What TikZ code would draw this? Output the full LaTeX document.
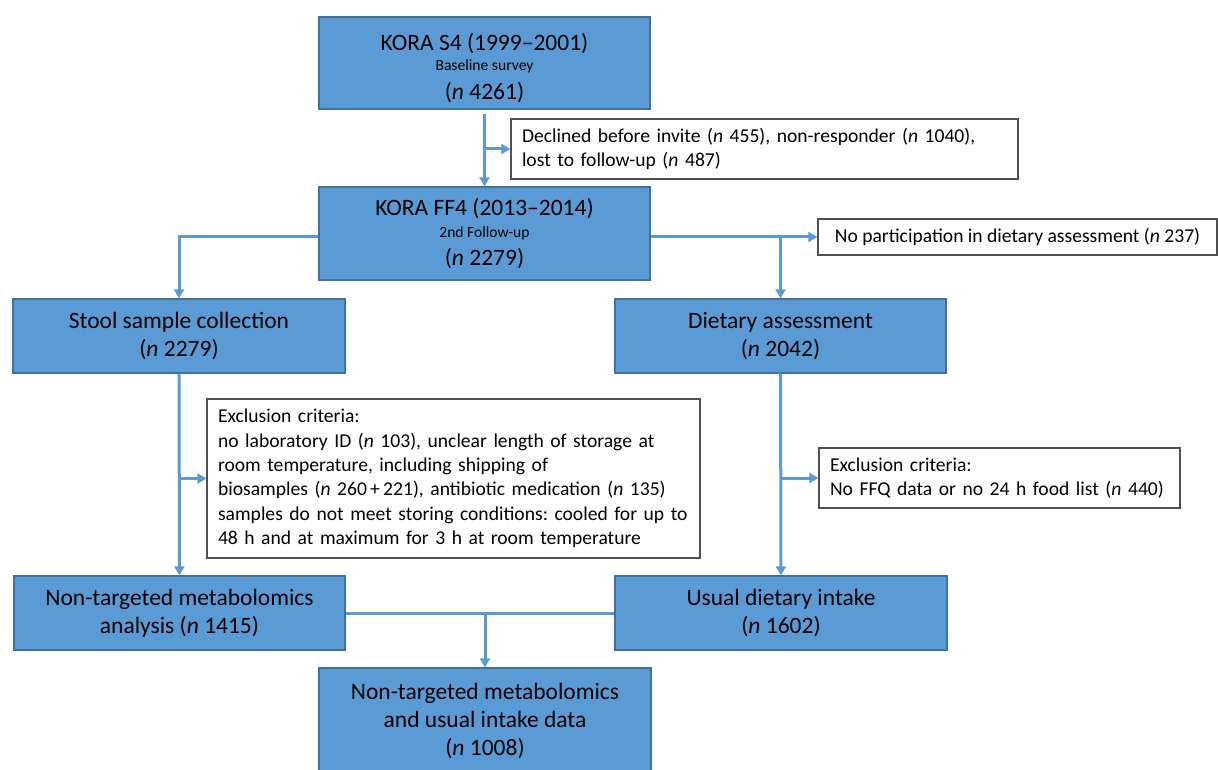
\documentclass[tikz,border=0pt]{standalone}
\usepackage{fontspec}
\setmainfont{Carlito}
\frenchspacing
\usetikzlibrary{arrows.meta}
\definecolor{bleu}{HTML}{5B9BD5}
\definecolor{bord}{HTML}{41719C}
\definecolor{gris}{HTML}{505050}
\begin{document}
\begin{tikzpicture}[x=1pt,y=-1pt]
%styles : boites bleues, boites d'exclusion, fleches
\tikzset{bloc/.style={draw=bord,line width=1.2pt,fill=bleu,align=center,inner sep=0pt,font=\fontsize{23.5}{28.2}\selectfont},
exclu/.style={draw=gris,line width=1.2pt,fill=white,align=left,inner xsep=11pt,inner ysep=0pt,font=\fontsize{19.6}{24.3}\selectfont},
fleche/.style={bleu,line width=3pt,-{Triangle[length=9pt,width=10pt]}},
trait/.style={bleu,line width=3pt}}
\useasboundingbox (0,0) rectangle (1218,770);

%boites bleues
\node[bloc,minimum width=331pt,minimum height=92pt] (s4) at (484.5,63) {\rule{0pt}{27pt}KORA S4 (1999--2001)\\[-8pt]{\fontsize{15.6}{18}\selectfont Baseline survey}\\(\textit{n} 4261)};
\node[bloc,minimum width=331pt,minimum height=93pt] (ff4) at (484.5,233.5) {KORA FF4 (2013--2014)\\[-6pt]{\fontsize{15.6}{18}\selectfont 2nd Follow-up}\\(\textit{n} 2279)};
\node[bloc,minimum width=332pt,minimum height=74pt] (stool) at (179,336) {Stool sample collection\\(\textit{n} 2279)};
\node[bloc,minimum width=331pt,minimum height=74pt] (diet) at (780.5,336) {Dietary assessment\\(\textit{n} 2042)};
\node[bloc,minimum width=331pt,minimum height=74pt] (metab) at (179.5,613) {Non-targeted metabolomics\\analysis (\textit{n} 1415)};
\node[bloc,minimum width=332pt,minimum height=74pt] (usual) at (781,613) {Usual dietary intake\\(\textit{n} 1602)};
\node[bloc,minimum width=332pt,minimum height=106pt] (final) at (485,721) {Non-targeted metabolomics\\and usual intake data\\(\textit{n} 1008)};

%boites d'exclusion
\node[exclu,text width=485pt,minimum height=60pt] (declin) at (764.5,149) {Declined before invite (\textit{n} 455), non-responder (\textit{n} 1040),\\lost to follow-up (\textit{n} 487)};
\node[exclu,minimum width=399pt,minimum height=36pt] (nopart) at (1017.5,237) {No participation in dietary assessment (\textit{n} 237)};
\node[exclu,text width=471pt,minimum height=159pt] (exstool) at (453.5,478.5) {Exclusion criteria:\\no laboratory ID (\textit{n} 103), unclear length of storage at\\room temperature, including shipping of\\biosamples (\textit{n} 260\,+\,221), antibiotic medication (\textit{n} 135)\\samples do not meet storing conditions: cooled for up to\\48 h and at maximum for 3 h at room temperature};
\node[exclu,text width=339pt,minimum height=60pt] (exdiet) at (999.5,478) {Exclusion criteria:\\No FFQ data or no 24 h food list (\textit{n} 440)};

%fleches
\draw[fleche,shorten <=4pt] (s4) -- (ff4);
\draw[fleche] (s4.south |- declin.west) -- (declin.west);
\draw[fleche] (ff4.west |- nopart.west) -| (stool.north);
\draw[fleche] (ff4.east |- nopart.west) -- (nopart.west);
\draw[fleche] (diet.north |- nopart.west) -- (diet.north);
\draw[fleche] (stool) -- (metab);
\draw[fleche] (stool.south |- exstool.west) -- (exstool.west);
\draw[fleche] (diet) -- (usual);
\draw[fleche] (diet.south |- exdiet.west) -- (exdiet.west);
\draw[trait] (metab.east) -- (usual.west);
\draw[fleche] (final.north |- metab.east) -- (final.north);
\end{tikzpicture}
\end{document}
